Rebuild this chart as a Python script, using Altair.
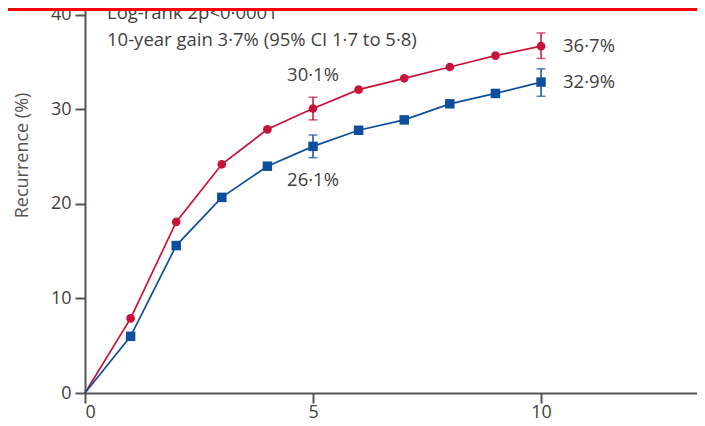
import altair as alt
import pandas as pd

years = [0, 1, 2, 3, 4, 5, 6, 7, 8, 9, 10]
red_vals = [0, 7.9, 18.1, 24.2, 27.9, 30.1, 32.1, 33.3, 34.5, 35.7, 36.7]
blue_vals = [0, 6.0, 15.6, 20.7, 24.0, 26.1, 27.8, 28.9, 30.6, 31.7, 32.9]

ci_years = [5, 10]
red_lo = [28.9, 35.4]
red_hi = [31.3, 38.1]
blue_lo = [24.9, 31.4]
blue_hi = [27.3, 34.3]

red_lab_years = [5, 10]
red_lab_vals = [30.1, 36.7]
red_lab_text = ["30·1%", "36·7%"]
blue_lab_vals = [26.1, 32.9]
blue_lab_text = ["26·1%", "32·9%"]

header = ["Log-rank 2p<0·0001", "10-year gain 3·7% (95% CI 1·7 to 5·8)"]

RED = "#c8123a"
BLUE = "#0d4f9e"
FONT = "Open Sans"
TXT = "#3f3f3f"
FS = 18.5

red_df = pd.DataFrame({"year": years, "v": red_vals})
blue_df = pd.DataFrame({"year": years, "v": blue_vals})
red_ci = pd.DataFrame({"year": ci_years, "lo": red_lo, "hi": red_hi})
blue_ci = pd.DataFrame({"year": ci_years, "lo": blue_lo, "hi": blue_hi})

xs = alt.Scale(domain=[0, 13.42], nice=False)
ys = alt.Scale(domain=[0, 40.74], nice=False)

X = alt.X("year:Q", scale=xs, axis=alt.Axis(
    values=[0, 5, 10], title=None, tickSize=10, tickWidth=2, domainWidth=2,
    domainColor="#555555", tickColor="#555555", labelFontSize=18,
    labelColor=TXT, labelFont=FONT, labelPadding=0, grid=False))
Y = alt.Y("v:Q", scale=ys, axis=alt.Axis(
    values=[0, 10, 20, 30, 40], title="Recurrence (%)", tickSize=10, tickWidth=2,
    domainWidth=2, domainColor="#555555", tickColor="#555555", labelFontSize=18,
    labelColor=TXT, labelFont=FONT, labelPadding=4, grid=False,
    titleFont=FONT, titleFontSize=18, titleFontWeight="normal", titleColor="#555555",
    titleX=-63, titleY=147, titleAngle=270, titleBaseline="middle", titleAlign="center"))


def series(df, color, shape, size):
    line = alt.Chart(df).mark_line(color=color, strokeWidth=1.7).encode(x=X, y=Y)
    pts = alt.Chart(df[df["year"] > 0]).mark_point(
        filled=True, opacity=1, color=color, shape=shape, size=size).encode(
        x="year:Q", y="v:Q")
    return line + pts


def errbars(df, color):
    rule = alt.Chart(df).mark_rule(color=color, strokeWidth=1.5).encode(
        x="year:Q", y="lo:Q", y2="hi:Q")
    lo = alt.Chart(df).mark_tick(color=color, orient="horizontal", size=9, thickness=1.5).encode(
        x="year:Q", y="lo:Q")
    hi = alt.Chart(df).mark_tick(color=color, orient="horizontal", size=9, thickness=1.5).encode(
        x="year:Q", y="hi:Q")
    return rule + lo + hi


red_lab = pd.DataFrame({"year": red_lab_years, "v": red_lab_vals, "t": red_lab_text})
blue_lab = pd.DataFrame({"year": red_lab_years, "v": blue_lab_vals, "t": blue_lab_text})

tstyle = dict(font=FONT, fontSize=FS, color=TXT)

lab_r5 = alt.Chart(red_lab.iloc[[0]]).mark_text(dy=-34, align="center", baseline="middle", **tstyle).encode(
    x="year:Q", y="v:Q", text="t:N")
lab_b5 = alt.Chart(blue_lab.iloc[[0]]).mark_text(dy=34, align="center", baseline="middle", **tstyle).encode(
    x="year:Q", y="v:Q", text="t:N")
lab_r10 = alt.Chart(red_lab.iloc[[1]]).mark_text(dx=22, align="left", baseline="middle", **tstyle).encode(
    x="year:Q", y="v:Q", text="t:N")
lab_b10 = alt.Chart(blue_lab.iloc[[1]]).mark_text(dx=22, align="left", baseline="middle", **tstyle).encode(
    x="year:Q", y="v:Q", text="t:N")

hdf = pd.DataFrame({"t": header, "row": [0, 1]})
head1 = alt.Chart(hdf.iloc[[0]]).mark_text(align="left", baseline="alphabetic", **tstyle).encode(
    x=alt.value(22), y=alt.value(11), text="t:N")
head2 = alt.Chart(hdf.iloc[[1]]).mark_text(align="left", baseline="alphabetic", **tstyle).encode(
    x=alt.value(22), y=alt.value(38), text="t:N")

bar = alt.Chart(hdf.iloc[[0]]).mark_rect(color="#ff0000").encode(
    x=alt.value(-80), x2=alt.value(640), y=alt.value(-10), y2=alt.value(3))

chart = alt.layer(
    series(red_df, RED, "circle", 75),
    series(blue_df, BLUE, "square", 90),
    errbars(red_ci, RED),
    errbars(blue_ci, BLUE),
    lab_r5, lab_b5, lab_r10, lab_b10,
    head1, head2, bar,
).properties(
    width=612, height=385,
    autosize=alt.AutoSizeParams(type="none"),
    padding={"left": 77, "top": 0, "right": 0, "bottom": 33},
    background="white",
).configure_view(stroke=None)

chart.save("out.html", embed_options={"renderer": "svg", "actions": False})
